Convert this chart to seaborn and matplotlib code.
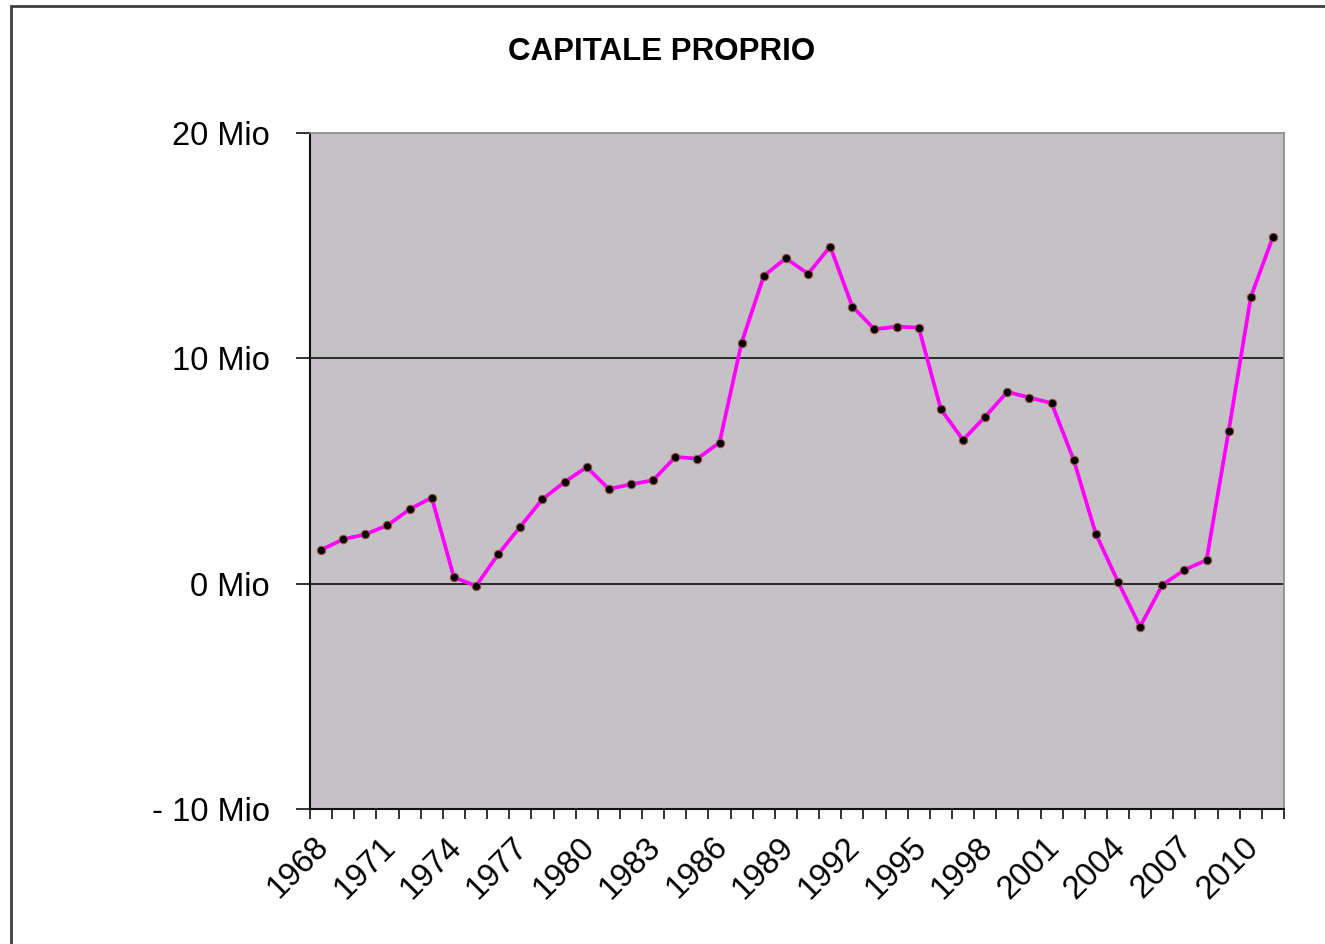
import numpy as np
import pandas as pd
import matplotlib.pyplot as plt
import matplotlib.transforms as mtransforms
import seaborn as sns
from matplotlib.patches import Rectangle
from matplotlib.ticker import FixedLocator

# Dati (milioni)
anni = list(range(1968, 2012))
capitale = [1.50, 1.97, 2.19, 2.59, 3.30, 3.82, 0.28, -0.10, 1.30, 2.53,
            3.75, 4.51, 5.17, 4.20, 4.41, 4.59, 5.62, 5.55, 6.26, 10.70,
            13.66, 14.44, 13.75, 14.96, 12.30, 11.29, 11.41, 11.36, 7.74, 6.38,
            7.41, 8.51, 8.26, 8.01, 5.49, 2.21, 0.09, -1.91, -0.06, 0.61,
            1.05, 6.78, 12.72, 15.39]
anni_etichette = list(range(1968, 2011, 3))
y_ticks = [-10, 0, 10, 20]
y_labels = ["- 10 Mio", "0 Mio", "10 Mio", "20 Mio"]

df = pd.DataFrame({"anno": anni, "capitale": capitale})

sns.set_theme(style="white")
plt.rcParams["font.family"] = ["Liberation Sans", "DejaVu Sans"]
plt.rcParams["text.color"] = "black"
plt.rcParams["xtick.color"] = "black"
plt.rcParams["ytick.color"] = "black"

fig = plt.figure(figsize=(13.25, 9.44), dpi=100)
ax = fig.add_axes([310 / 1325, 1 - 809 / 944, 974 / 1325, 676 / 944])
ax.set_facecolor("#c4c2c5")

# bordo del grafico
fig.patches.append(Rectangle((11 / 1325, -0.05), 1.1, 1 - 6 / 944 + 0.05,
                             transform=fig.transFigure, fill=False,
                             edgecolor="#404040", linewidth=2))

for v in [0, 10]:
    ax.axhline(v, color="#111111", linewidth=1.2, zorder=1)

sns.lineplot(data=df, x="anno", y="capitale", ax=ax, color="#ff00ff",
             linewidth=2.7, marker="o", markersize=6,
             markerfacecolor="black", markeredgecolor="#a05050",
             markeredgewidth=0.8, zorder=3)

ax.set_xlim(anni[0] - 0.5, anni[-1] + 0.5)
ax.set_ylim(-10, 20)
ax.set_yticks(y_ticks)
ax.set_yticklabels(y_labels)
ax.xaxis.set_major_locator(FixedLocator(anni_etichette))
ax.set_xticklabels([str(a) for a in anni_etichette], rotation=45,
                   ha="right", va="top", rotation_mode="anchor")
ax.xaxis.set_minor_locator(FixedLocator(np.arange(anni[0] - 0.5, anni[-1] + 1, 1)))
ax.tick_params(axis="x", which="major", length=0, labelsize=23.5, pad=16)
ax.tick_params(axis="x", which="minor", length=7, width=1.2, color="#111111",
               direction="out", bottom=True)
ax.tick_params(axis="y", length=10, width=1.2, color="#111111", labelsize=23.5,
               direction="out", left=True, pad=19)
ax.set_xlabel("")
ax.set_ylabel("")

# sposta un po' le etichette dell'asse x verso sinistra
offset = mtransforms.ScaledTranslation(-8 / 100, 0, fig.dpi_scale_trans)
for lab in ax.get_xticklabels():
    lab.set_transform(lab.get_transform() + offset)

for s in ["left", "bottom"]:
    ax.spines[s].set_color("#111111")
    ax.spines[s].set_linewidth(1.5)
for s in ["top", "right"]:
    ax.spines[s].set_color("#8a8a8a")
    ax.spines[s].set_linewidth(1.2)

fig.text(662 / 1325, 1 - 52 / 944, "CAPITALE PROPRIO", ha="center",
         va="center", fontsize=22.5, fontweight="bold")

fig.savefig("out.png", dpi=100)
